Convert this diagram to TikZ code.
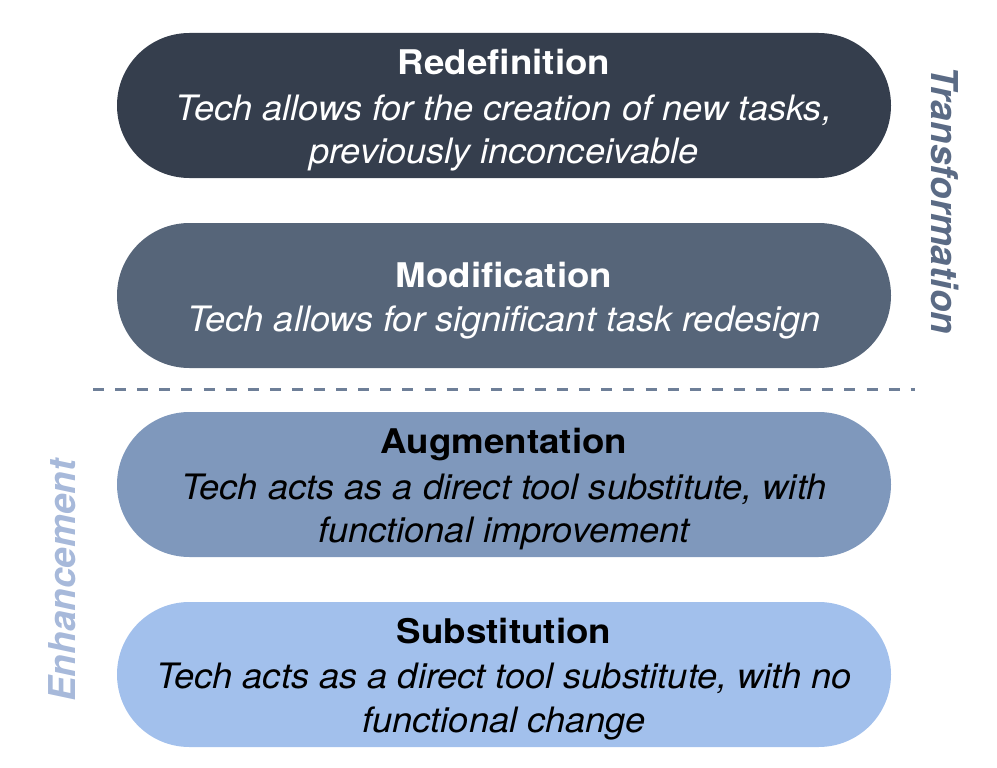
\documentclass[tikz,border=0pt]{standalone}
\usepackage{fontspec}
\setmainfont{TeX Gyre Heros}
\newfontfamily\titlefont[FakeStretch=1.08]{TeX Gyre Heros}
\newfontfamily\descfont[FakeStretch=1.035]{TeX Gyre Heros}
\definecolor{cA}{HTML}{353E4D}
\definecolor{cB}{HTML}{566579}
\definecolor{cC}{HTML}{7F98BC}
\definecolor{cD}{HTML}{A2C0EC}
\definecolor{cTrans}{HTML}{5B6B85}
\definecolor{cEnh}{HTML}{A7B9DA}
\definecolor{cDash}{HTML}{6E7F98}
\tikzset{
  stadium/.style={rectangle, rounded corners=72.4pt, minimum width=774pt, minimum height=145pt, inner sep=0pt, draw=none},
  ttl/.style={anchor=base, inner sep=0pt, font=\titlefont\bfseries\fontsize{34}{40}\selectfont},
  dsc/.style={anchor=base, inner sep=0pt, font=\descfont\itshape\fontsize{35}{44}\selectfont},
  side/.style={anchor=base, inner sep=0pt, font=\bfseries\itshape\fontsize{37}{44}\selectfont},
  sep/.style={draw=cDash, line width=3pt, dash pattern=on 11pt off 11.1pt}
}
\begin{document}
\begin{tikzpicture}[x=1pt,y=-1pt]
\path[use as bounding box] (0,0) rectangle (997,768);
% boxes
\node[stadium, fill=cA] (b1) at (504,105.5) {};
\node[stadium, fill=cB] (b2) at (504,295.5) {};
\node[stadium, fill=cC] (b3) at (504,484.5) {};
\node[stadium, fill=cD] (b4) at (504,674.5) {};
% texts box 1
\node[ttl, text=white] (t1) at (504,75) {Redefinition};
\node[dsc, text=white] (d1a) at (504,120.5) {Tech allows for the creation of new tasks,};
\node[dsc, text=white] (d1b) at (504,164) {previously inconceivable};
% box 2
\node[ttl, text=white] (t2) at (504,287) {Modification};
\node[dsc, text=white] (d2a) at (504,331) {Tech allows for significant task redesign};
% box 3
\node[ttl, text=black] (t3) at (504,453) {Augmentation};
\node[dsc, text=black] (d3a) at (504,499) {Tech acts as a direct tool substitute, with};
\node[dsc, text=black] (d3b) at (504,542) {functional improvement};
% box 4
\node[ttl, text=black] (t4) at (504,643) {Substitution};
\node[dsc, text=black] (d4a) at (504,688) {Tech acts as a direct tool substitute, with no};
\node[dsc, text=black] (d4b) at (504,732) {functional change};
% separator
\coordinate (dl) at (93,389);
\coordinate (dr) at (915,389);
\draw[sep] (dl) -- (dr);
% side labels
\node[side, text=cTrans, rotate=-90] (trans) at (931,200.5) {Transformation};
\node[side, text=cEnh, rotate=90] (enh) at (75,580.5) {Enhancement};
\end{tikzpicture}
\end{document}
